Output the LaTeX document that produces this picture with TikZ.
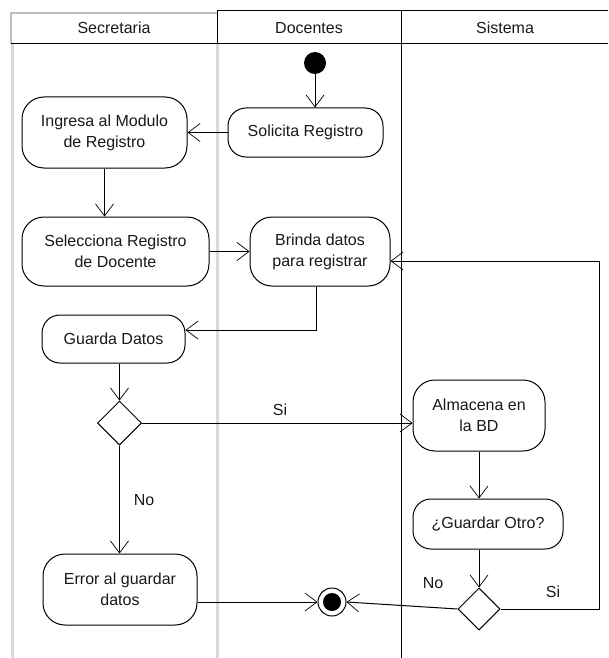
\documentclass[tikz,border=0pt]{standalone}
\usepackage{fontspec}
\setmainfont{Liberation Sans}
\usetikzlibrary{arrows.meta,shapes.geometric}
\begin{document}
\begin{tikzpicture}[x=1pt,y=-1pt,
  every node/.style={font=\fontsize{16}{21}\selectfont, text=black!90},
  act/.style={draw, line width=1pt, rounded corners=18pt, align=center, inner sep=0pt, fill=white},
  tall/.style={rounded corners=22pt},
  dec/.style={draw, line width=1pt, diamond, minimum width=44pt, minimum height=44pt, inner sep=0pt, fill=white},
  flow/.style={line width=1pt, -{Straight Barb[length=12pt,width=18pt,line width=0.7pt]}},
  plain/.style={line width=1pt},
  lane/.style={line width=3pt, black!15},
  lbl/.style={inner sep=0pt},
]
\useasboundingbox (0,0) rectangle (608,658);

% swimlanes
\draw[lane] (12.5,44) -- (12.5,658);
\draw[lane] (217,44) -- (217,658);
\draw[plain] (401,11) -- (401,658);
\draw[black!25, line width=1.5pt] (11,44) -- (11,13) -- (217,13);
\draw[plain] (217,44) -- (217,11) -- (608,11);
\draw[plain] (11,44) -- (608,44);
\node[lbl] (hsec) at (114,28) {Secretaria};
\node[lbl] (hdoc) at (309,28) {Docentes};
\node[lbl] (hsis) at (505,28) {Sistema};

% activities
\node[circle, fill=black, minimum size=22pt, inner sep=0pt] (start) at (315,63) {};
\node[act, minimum width=155pt, minimum height=49pt] (solicita) at (305.5,132.5) {Solicita Registro};
\node[act, tall, minimum width=165pt, minimum height=71pt] (ingresa) at (104.5,132.5) {Ingresa al Modulo\\de Registro};
\node[act, tall, minimum width=187pt, minimum height=69pt] (selecciona) at (115.5,251.5) {Selecciona Registro\\de Docente};
\node[act, tall, minimum width=140pt, minimum height=69pt] (brinda) at (320,251.5) {Brinda datos\\para registrar};
\node[act, minimum width=143pt, minimum height=48pt] (guarda) at (113.5,339) {Guarda Datos};
\node[dec] (d1) at (119.5,423) {};
\node[act, tall, minimum width=132pt, minimum height=71pt] (almacena) at (479,415.5) {Almacena en\\la BD};
\node[act, minimum width=150pt, minimum height=50pt] (otro) at (488,524) {¿Guardar Otro?};
\node[dec, minimum width=42pt, minimum height=42pt] (d2) at (479,609) {};
\node[act, tall, minimum width=154pt, minimum height=71pt] (error) at (120,589.5) {Error al guardar\\datos};
\node[circle, draw, line width=1pt, fill=white, minimum size=28pt, inner sep=0pt] (fin) at (332,602) {};
\node[circle, fill=black, minimum size=18pt, inner sep=0pt] (fincore) at (fin) {};

% flows
\draw[flow] (start) -- (start |- solicita.north);
\draw[flow] (solicita.west) -- (ingresa.east);
\draw[flow] (ingresa.south) -- (ingresa.south |- selecciona.north);
\draw[flow] (selecciona.east) -- (brinda.west);
\draw[flow] ([xshift=-4pt]brinda.south) |- ([yshift=9pt]guarda.east);
\draw[flow] (d1.north |- guarda.south) -- (d1.north);
\draw[flow] (d1.east) -- (d1.east -| almacena.west);
\node[lbl] (si1) at (280,410) {Si};
\draw[flow] (d1.south) -- (d1.south |- error.north);
\node[lbl] (no1) at (144,500) {No};
\draw[flow] (almacena.south) -- (almacena.south |- otro.north);
\draw[flow] (d2.north |- otro.south) -- (d2.north);
\draw[flow] (d2.west) -- (fin.east);
\node[lbl] (no2) at (433,583) {No};
\draw[flow] (fin.west -| error.east) -- (fin.west);
\coordinate (loop) at (599,261);
\draw[flow] (d2.east) -| (loop) -- (loop -| brinda.east);
\node[lbl] (si2) at (553,592) {Si};
\end{tikzpicture}
\end{document}
